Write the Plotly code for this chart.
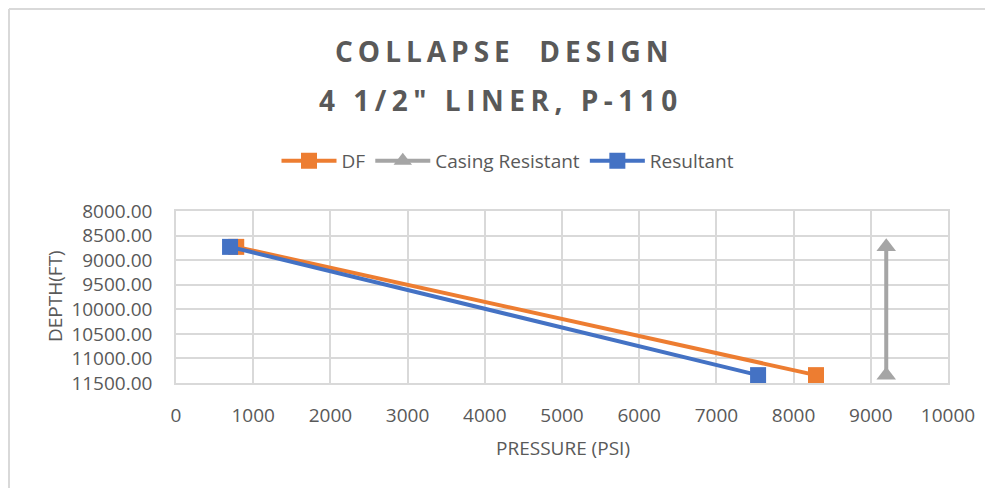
import plotly.graph_objects as go

depth = [8730, 11340]
df_pressure = [780, 8290]
casing_pressure = [9200, 9200]
resultant_pressure = [700, 7540]

x_ticks = list(range(0, 10001, 1000))
y_ticks = list(range(8000, 11501, 500))

GRAY = "#595959"
GRID = "#d9d9d9"
FONT = "Open Sans"

fig = go.Figure()
fig.add_trace(go.Scatter(x=df_pressure, y=depth, name="DF", mode="lines+markers",
                         line=dict(color="#ED7D31", width=4),
                         marker=dict(symbol="square", size=16, color="#ED7D31")))
fig.add_trace(go.Scatter(x=casing_pressure, y=depth, name="Casing Resistant", mode="lines+markers",
                         line=dict(color="#A5A5A5", width=4),
                         marker=dict(symbol="triangle-up", size=17, color="#A5A5A5")))
fig.add_trace(go.Scatter(x=resultant_pressure, y=depth, name="Resultant", mode="lines+markers",
                         line=dict(color="#4472C4", width=4),
                         marker=dict(symbol="square", size=16, color="#4472C4")))

OFF = 8  # page body offset
W, H = 993, 488
L, T = 176 - OFF, 211 - OFF
pw, ph = 772, 172
R = W - L - pw
B = H - T - ph

def px_x(x):
    return (x - OFF - L) / pw

def px_y(y):
    return 1 - (y - OFF - T) / ph

fig.update_layout(
    width=W, height=H,
    margin=dict(l=L, r=R, t=T, b=B),
    paper_bgcolor="white", plot_bgcolor="white",
    font=dict(family=FONT, color=GRAY),
    showlegend=True,
    legend=dict(orientation="h", x=px_x(508), xanchor="center", y=px_y(161), yanchor="middle",
                font=dict(size=19, color=GRAY), itemwidth=55, traceorder="normal"),
    xaxis=dict(range=[0, 10000], tickvals=x_ticks, tickformat="d", showgrid=True,
               gridcolor=GRID, gridwidth=1.5, showline=True, linecolor=GRID, linewidth=1.5,
               mirror=True, zeroline=False, ticks="outside", ticklen=14, tickcolor="rgba(0,0,0,0)",
               tickfont=dict(size=19, color=GRAY)),
    yaxis=dict(range=[11500, 8000], tickvals=y_ticks, tickformat=".2f", showgrid=True,
               gridcolor=GRID, gridwidth=1.5, showline=True, linecolor=GRID, linewidth=1.5,
               mirror=True, zeroline=False, ticks="outside", ticklen=18, tickcolor="rgba(0,0,0,0)",
               tickfont=dict(size=19, color=GRAY)),
    annotations=[
        dict(text="<span style=\"letter-spacing:5px\"><b>COLLAPSE  DESIGN</b></span>", xref="paper", yref="paper",
             x=px_x(504), y=px_y(51),
             xanchor="center", yanchor="middle", showarrow=False,
             font=dict(family=FONT, size=28, color=GRAY)),
        dict(text="<span style=\"letter-spacing:5.5px\"><b>4 1/2\" LINER, P-110</b></span>", xref="paper", yref="paper",
             x=px_x(501), y=px_y(100),
             xanchor="center", yanchor="middle", showarrow=False,
             font=dict(family=FONT, size=28, color=GRAY)),
        dict(text="PRESSURE (PSI)", xref="paper", yref="paper", x=px_x(563), y=px_y(448),
             xanchor="center", yanchor="middle", showarrow=False,
             font=dict(family=FONT, size=19, color=GRAY)),
        dict(text="DEPTH(FT)", xref="paper", yref="paper", x=px_x(55), y=px_y(296),
             xanchor="center", yanchor="middle", showarrow=False, textangle=-90,
             font=dict(family=FONT, size=19, color=GRAY)),
    ],
    shapes=[
        dict(type="line", xref="paper", yref="paper", x0=px_x(9), x1=px_x(9), y0=px_y(9), y1=px_y(510),
             line=dict(color=GRID, width=2)),
        dict(type="line", xref="paper", yref="paper", x0=px_x(9), x1=px_x(1010), y0=px_y(9), y1=px_y(9),
             line=dict(color=GRID, width=2)),
    ],
)

fig.write_html("out.html")
